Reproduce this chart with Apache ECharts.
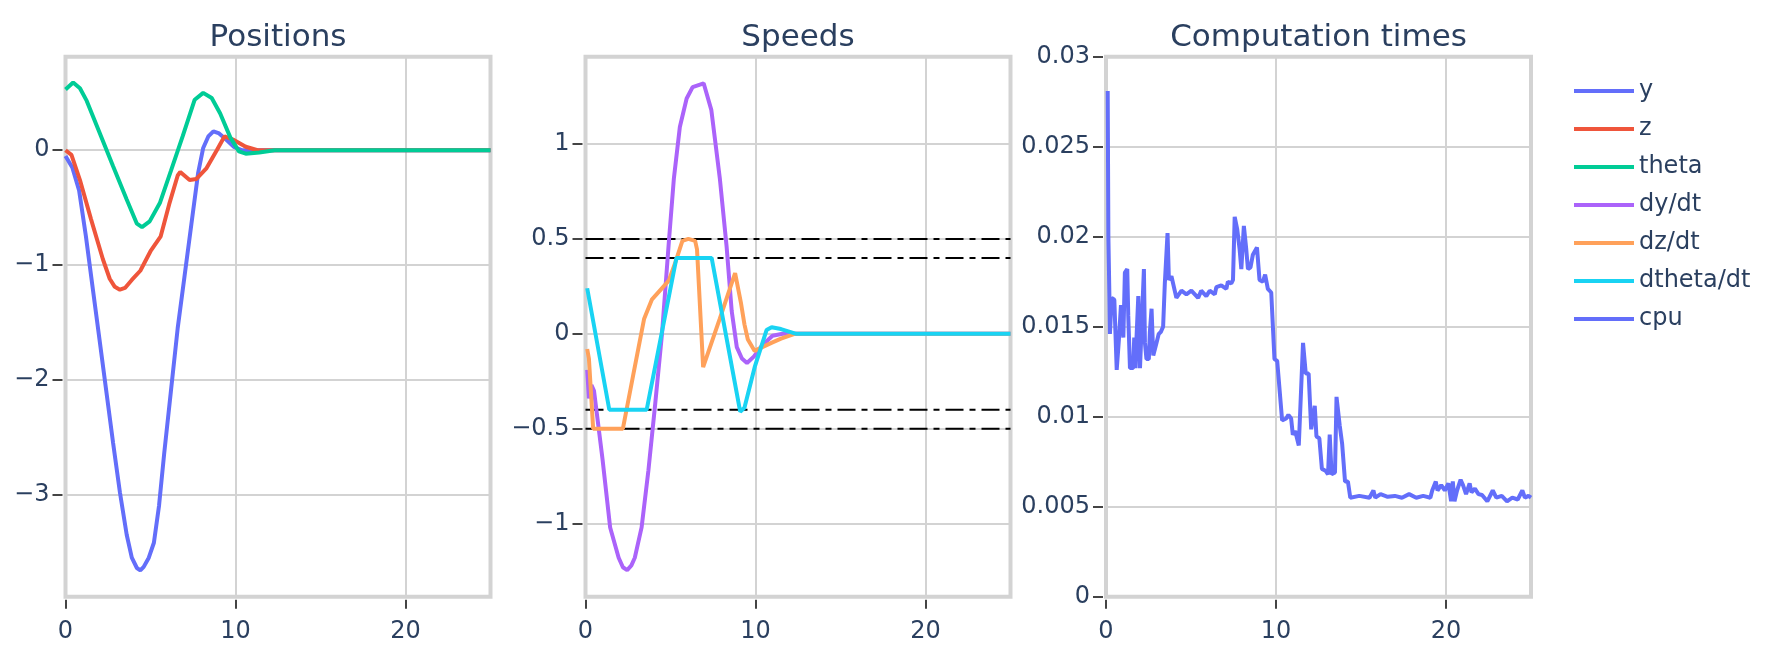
<!DOCTYPE html>
<html>
<head>
<meta charset="utf-8">
<script src="https://cdn.jsdelivr.net/npm/echarts@6/dist/echarts.min.js"></script>
<style>
html, body { margin: 0; padding: 0; background: #fff; }
#chart { width: 1774px; height: 662px; }
</style>
</head>
<body>
<div id="chart"></div>
<script>
// Positions
var yT = [0, 0.4, 0.8, 1.2, 1.6, 2.0, 2.4, 2.8, 3.2, 3.6, 3.9, 4.2, 4.4, 4.6, 4.9, 5.2, 5.5, 5.8, 6.2, 6.6, 7.0, 7.4, 7.8, 8.1, 8.4, 8.7, 9.0, 9.4, 9.9, 10.4, 12, 25];
var yV = [-0.05, -0.15, -0.35, -0.75, -1.2, -1.65, -2.1, -2.55, -2.98, -3.35, -3.55, -3.64, -3.66, -3.63, -3.55, -3.42, -3.1, -2.65, -2.1, -1.55, -1.1, -0.65, -0.2, 0.02, 0.12, 0.165, 0.15, 0.1, 0.03, 0.0, 0, 0];

var zT = [0, 0.35, 0.85, 1.5, 2.2, 2.6, 2.9, 3.2, 3.5, 3.9, 4.4, 5.0, 5.6, 6.1, 6.6, 6.75, 7.3, 7.7, 8.3, 8.9, 9.35, 9.9, 10.6, 11.3, 12, 25];
var zV = [0, -0.04, -0.26, -0.6, -0.95, -1.12, -1.19, -1.215, -1.2, -1.13, -1.05, -0.88, -0.75, -0.47, -0.22, -0.19, -0.26, -0.25, -0.155, 0.0, 0.12, 0.09, 0.03, 0.0, 0, 0];

var thetaT = [0, 0.45, 0.85, 1.25, 2.0, 2.8, 3.6, 4.2, 4.5, 4.95, 5.55, 6.2, 6.9, 7.6, 8.1, 8.6, 9.1, 9.7, 10.2, 10.6, 11.4, 12.3, 25];
var thetaV = [0.53, 0.59, 0.54, 0.43, 0.155, -0.14, -0.43, -0.64, -0.67, -0.62, -0.46, -0.18, 0.125, 0.44, 0.5, 0.455, 0.32, 0.11, -0.01, -0.03, -0.02, 0, 0];

// Speeds
var dyT = [0.1, 0.2, 0.35, 0.5, 1.0, 1.45, 1.95, 2.2, 2.45, 2.7, 2.9, 3.3, 3.7, 4.1, 4.5, 4.9, 5.2, 5.55, 5.95, 6.3, 6.95, 7.4, 7.9, 8.3, 8.6, 8.9, 9.2, 9.5, 9.9, 10.4, 11, 11.6, 25];
var dyV = [-0.19, -0.34, -0.27, -0.3, -0.66, -1.02, -1.18, -1.23, -1.245, -1.22, -1.18, -1.02, -0.72, -0.37, 0.0, 0.48, 0.82, 1.09, 1.24, 1.3, 1.32, 1.18, 0.82, 0.46, 0.12, -0.07, -0.13, -0.154, -0.12, -0.06, -0.01, 0, 0];

var dzT = [0.1, 0.2, 0.28, 0.45, 2.2, 2.8, 3.45, 3.9, 4.4, 4.9, 5.3, 5.7, 6.05, 6.45, 6.56, 6.92, 7.9, 8.8, 9.15, 9.35, 9.55, 9.95, 10.4, 11, 11.5, 12.3, 25];
var dzV = [-0.08, -0.13, -0.12, -0.5, -0.5, -0.22, 0.08, 0.18, 0.23, 0.28, 0.38, 0.49, 0.5, 0.49, 0.445, -0.176, 0.08, 0.32, 0.16, 0.05, -0.03, -0.09, -0.07, -0.045, -0.025, 0, 0];

var dthetaT = [0.1, 1.4, 3.6, 5.35, 7.2, 7.3, 7.42, 9.1, 9.35, 9.97, 10.65, 10.95, 11.5, 12.4, 25];
var dthetaV = [0.24, -0.4, -0.4, 0.4, 0.4, 0.39, 0.4, -0.41, -0.39, -0.17, 0.02, 0.035, 0.025, 0, 0];

var limitT = [0, 25];
var limitV = [0.5, 0.4, -0.4, -0.5];

// Computation times
var cpuT = [0.1, 0.14, 0.2, 0.23, 0.33, 0.49, 0.63, 0.76, 0.88, 1.02,
    1.11, 1.25, 1.31, 1.41, 1.6, 1.66, 1.74, 1.8, 1.9, 2.0,
    2.09, 2.23, 2.29, 2.38, 2.52, 2.58, 2.68, 2.78, 2.87, 2.97,
    3.1, 3.22, 3.36, 3.46, 3.62, 3.7, 3.85, 4.14, 4.44, 4.73,
    5.02, 5.42, 5.6, 5.9, 6.1, 6.4, 6.49, 6.78, 7.08, 7.17,
    7.37, 7.47, 7.57, 7.72, 7.86, 7.96, 8.11, 8.25, 8.35, 8.5,
    8.64, 8.88, 9.03, 9.23, 9.36, 9.52, 9.72, 9.91, 10.07, 10.36,
    10.6, 10.73, 10.89, 10.99, 11.13, 11.34, 11.45, 11.59, 11.75, 11.92,
    12.07, 12.17, 12.28, 12.38, 12.55, 12.7, 12.91, 13.06, 13.16, 13.27,
    13.47, 13.56, 13.75, 13.89, 14.06, 14.23, 14.37, 14.9, 15.5, 15.73,
    15.84, 16.15, 16.57, 16.99, 17.41, 17.83, 18.25, 18.66, 19.08, 19.19,
    19.4, 19.5, 19.72, 19.93, 20.14, 20.3, 20.4, 20.5, 20.65, 20.86,
    21.0, 21.18, 21.39, 21.5, 21.7, 21.91, 22.12, 22.43, 22.75, 22.96,
    23.28, 23.59, 23.9, 24.22, 24.49, 24.64, 24.85, 25];
var cpuV = [0.0281, 0.020, 0.0167, 0.0146, 0.0166, 0.0165, 0.0126, 0.0143, 0.0162, 0.0144,
    0.0180, 0.0182, 0.0156, 0.0127, 0.0127, 0.0144, 0.0127, 0.0145, 0.0167, 0.0127,
    0.0126, 0.0182, 0.0141, 0.0132, 0.0132, 0.0147, 0.016, 0.0134, 0.0133, 0.0141,
    0.0146, 0.0147, 0.015, 0.0174, 0.0202, 0.0176, 0.0178, 0.0166, 0.017, 0.0168,
    0.017, 0.0166, 0.017, 0.0167, 0.017, 0.0168, 0.0172, 0.0173, 0.0171, 0.0175,
    0.0174, 0.0176, 0.0211, 0.0204, 0.0193, 0.0182, 0.0206, 0.0193, 0.0182, 0.0183,
    0.019, 0.0194, 0.0176, 0.0175, 0.0179, 0.0171, 0.0169, 0.0132, 0.0131, 0.0098,
    0.0099, 0.0101, 0.0099, 0.009, 0.0092, 0.0084, 0.0085, 0.0141, 0.0124, 0.0124,
    0.0093, 0.0094, 0.0106, 0.0089, 0.0088, 0.0071, 0.007, 0.0068, 0.009, 0.0068,
    0.0069, 0.0111, 0.0095, 0.0085, 0.0064, 0.0064, 0.0055, 0.0056, 0.0055, 0.0059,
    0.0055, 0.0057, 0.00555, 0.0056, 0.0055, 0.0057, 0.0055, 0.0056, 0.0055, 0.0059,
    0.0064, 0.0059, 0.0062, 0.0059, 0.0063, 0.0053, 0.0064, 0.0053, 0.0059, 0.0065,
    0.0062, 0.0057, 0.0063, 0.0058, 0.006, 0.0057, 0.00565, 0.0053, 0.0059, 0.0055,
    0.0056, 0.0053, 0.0055, 0.0054, 0.0059, 0.0055, 0.0056, 0.0055];

var xTicks = [0, 10, 20];
var posTicks = [0, -1, -2, -3];
var speedTicks = [1, 0.5, 0, -0.5, -1];
var cpuTicks = [0, 0.005, 0.01, 0.015, 0.02, 0.025, 0.03];

var FONT = 'DejaVu Sans', TXT = '#2a3f5f', GRIDC = '#d3d3d3';

function pairs(ts, vs) {
    return ts.map(function (t, i) { return [t, vs[i]]; });
}
function minus(v) {
    return String(v).replace('-', '\u2212');
}

var lefts = [65.5, 585.5, 1106];
var yRanges = [[-3.89, 0.815], [-1.385, 1.46], [0, 0.03]];
var yTicks = [posTicks, speedTicks, cpuTicks];

var grids = [], xAxes = [], yAxes = [];
lefts.forEach(function (l, i) {
    grids.push({
        left: l, top: 56.7, width: 425, height: 540,
        show: true, borderColor: GRIDC, borderWidth: 4,
        backgroundColor: 'transparent', outerBoundsMode: 'none'
    });
    xAxes.push({
        gridIndex: i, type: 'value', min: 0, max: 25, offset: 3, position: 'bottom',
        axisLine: {show: false, onZero: false},
        axisTick: {show: true, length: 9, customValues: xTicks, lineStyle: {color: '#444', width: 2}},
        axisLabel: {customValues: xTicks, margin: 20, color: TXT, fontFamily: FONT, fontSize: 24},
        splitLine: {show: true, lineStyle: {color: GRIDC, width: 2}}
    });
    yAxes.push({
        gridIndex: i, type: 'value', min: yRanges[i][0], max: yRanges[i][1], offset: 3, position: 'left',
        axisLine: {show: false, onZero: false},
        axisTick: {show: true, length: 10, customValues: yTicks[i], lineStyle: {color: '#444', width: 2}},
        axisLabel: {customValues: yTicks[i], margin: 13, color: TXT, fontFamily: FONT, fontSize: 24, formatter: minus},
        splitLine: {show: true, lineStyle: {color: GRIDC, width: 2}}
    });
});

function line(name, ts, vs, color, g) {
    return {
        name: name, type: 'line', xAxisIndex: g, yAxisIndex: g,
        data: pairs(ts, vs), showSymbol: false, symbol: 'none',
        lineStyle: {color: color, width: 4}, itemStyle: {color: color},
        emphasis: {disabled: true}, clip: true
    };
}

var series = [
    line('y', yT, yV, '#636efa', 0),
    line('z', zT, zV, '#EF553B', 0),
    line('theta', thetaT, thetaV, '#00cc96', 0)
];
limitV.forEach(function (v, k) {
    series.push({
        name: 'limit' + k, type: 'line', xAxisIndex: 1, yAxisIndex: 1,
        data: limitT.map(function (t) { return [t, v]; }),
        showSymbol: false, symbol: 'none',
        lineStyle: {color: '#000', width: 2, type: [18, 6, 6, 6]},
        emphasis: {disabled: true}
    });
});
series.push(line('dy/dt', dyT, dyV, '#ab63fa', 1));
series.push(line('dz/dt', dzT, dzV, '#FFA15A', 1));
series.push(line('dtheta/dt', dthetaT, dthetaV, '#19d3f3', 1));
series.push(line('cpu', cpuT, cpuV, '#636efa', 2));

var titles = ['Positions', 'Speeds', 'Computation times'].map(function (t, i) {
    return {
        text: t, left: lefts[i] + 212.5, top: 22, textAlign: 'center', padding: 0,
        textStyle: {color: TXT, fontFamily: FONT, fontSize: 31, fontWeight: 'normal'}
    };
});

var chart = echarts.init(document.getElementById('chart'));
chart.setOption({
    animation: false,
    backgroundColor: '#fff',
    title: titles,
    legend: {
        orient: 'vertical', left: 1569, top: 74,
        itemWidth: 60, itemHeight: 4, itemGap: 14, icon: 'rect',
        textStyle: {color: TXT, fontFamily: FONT, fontSize: 24, lineHeight: 24},
        data: ['y', 'z', 'theta', 'dy/dt', 'dz/dt', 'dtheta/dt', 'cpu']
    },
    grid: grids,
    xAxis: xAxes,
    yAxis: yAxes,
    series: series
});
</script>
</body>
</html>
